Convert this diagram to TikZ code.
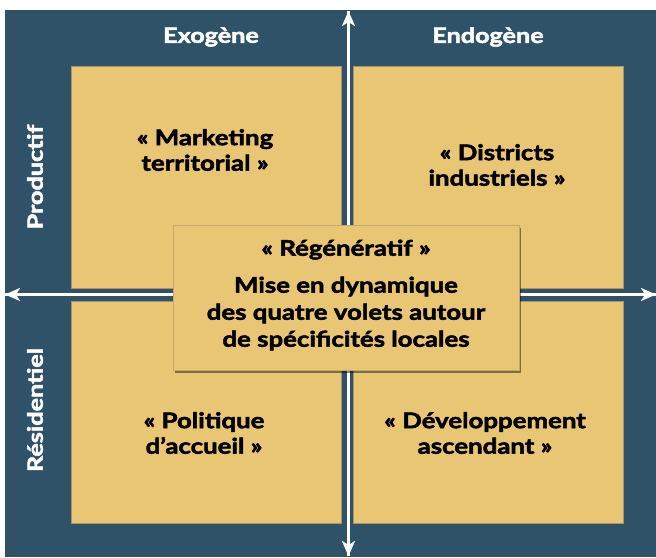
\documentclass[tikz,border=0pt]{standalone}
\usepackage{fontspec}
\setmainfont{Lato}[FakeStretch=1.2, BoldFeatures={FakeBold=2.4}]
\usetikzlibrary{arrows.meta,shadows}
\definecolor{bgblue}{HTML}{2F5269}
\definecolor{gold}{HTML}{E8C674}
\definecolor{goldedge}{HTML}{A8946A}
\tikzset{
  quad/.style={draw=goldedge, line width=0.8pt, fill=gold, minimum width=270pt, minimum height=222pt, anchor=north west, inner sep=0pt},
  qtext/.style={font=\bfseries\fontsize{21.5}{25.5}\selectfont, align=center, text=black},
  axislabel/.style={font=\bfseries\fontsize{21}{24}\selectfont, text=white},
  axisarrow/.style={draw=white, line width=3.2pt, -{Stealth[length=15pt,width=13pt,inset=4pt]}},
  centerbox/.style={fill=gold, draw=goldedge!60!gold, line width=0.4pt, minimum width=346pt, minimum height=145pt, anchor=north west, inner sep=0pt,
    drop shadow={shadow xshift=2pt, shadow yshift=-3pt, opacity=0.45, fill=black}},
}
\begin{document}
\begin{tikzpicture}[x=1pt,y=-1pt]
\useasboundingbox (0,0) rectangle (656,557);
\fill[white] (0,0) rectangle (656,557);
\fill[bgblue] (5,10) rectangle (656,557);
% quadrants
\node[quad] (tl) at (71,66) {};
\node[quad] (tr) at (353,66) {};
\node[quad] (bl) at (71,301) {};
\node[quad] (br) at (353,301) {};
% axes
\coordinate (top) at (348.5,11);
\coordinate (bottom) at (348.5,556);
\coordinate (left) at (5,294.5);
\coordinate (right) at (656,294.5);
\draw[axisarrow] (bottom) -- (top);
\draw[axisarrow] (right) -- (left);
\draw[axisarrow] (left) -- (right);
\draw[axisarrow] (top) -- (bottom);
% centre box
\node[centerbox] (ctr) at (173,225) {};
\node[qtext, font=\bfseries\fontsize{21.5}{27}\selectfont] (ctrtxt) at (346,295) {« Régénératif »\\[10pt]Mise en dynamique\\des quatre volets autour\\de spécificités locales};
% quadrant texts
\node[qtext] (tltxt) at (205,150) {« Marketing\\territorial »};
\node[qtext] (trtxt) at (497,165) {« Districts\\industriels »};
\node[qtext] (bltxt) at (204,433) {« Politique\\d’accueil »};
\node[qtext] (brtxt) at (485,433) {« Développement\\ascendant »};
% axis labels
\node[axislabel] (exo) at (211,37) {Exogène};
\node[axislabel] (endo) at (488,37) {Endogène};
\node[axislabel, rotate=90] (prod) at (35,177) {Productif};
\node[axislabel, rotate=90] (resi) at (35,410) {Résidentiel};
\end{tikzpicture}
\end{document}
